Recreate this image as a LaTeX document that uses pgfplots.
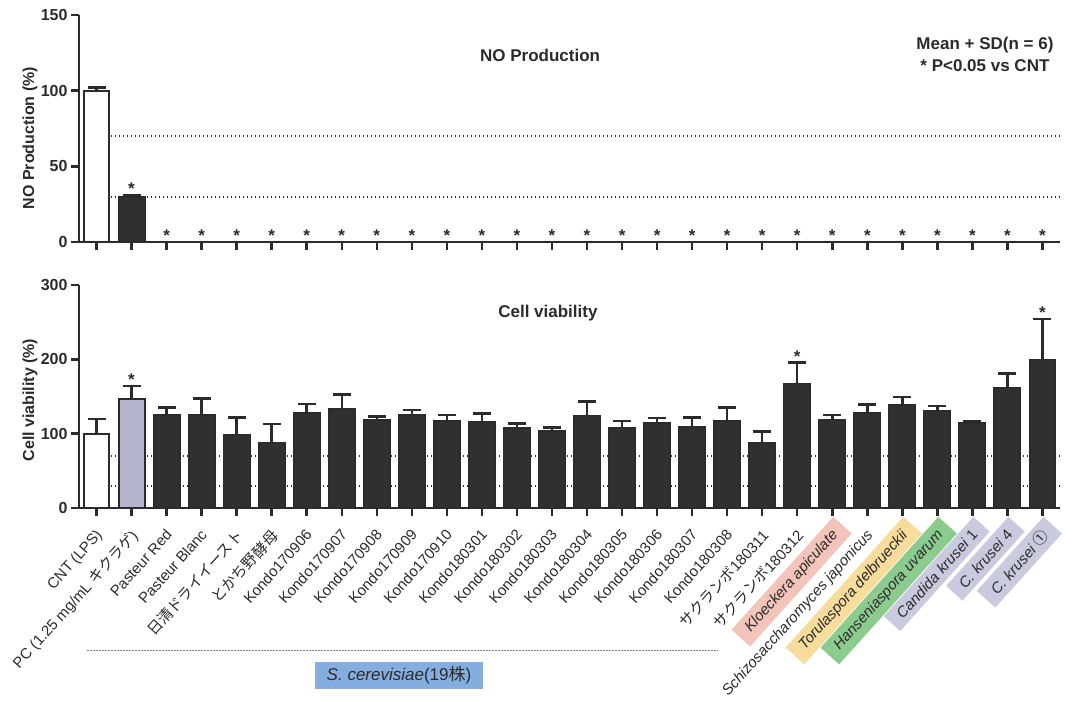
\documentclass[border=0pt]{standalone}
\usepackage{pgfplots}
\pgfplotsset{compat=1.18}
\usepackage{pgfplotstable}
\usepackage{fontspec}
\setmainfont{Liberation Sans}
\newfontfamily\jp{Noto Sans CJK JP}

\definecolor{ink}{HTML}{2B2B2B}
\definecolor{barfill}{HTML}{303030}
\definecolor{pcfill}{HTML}{B4B4CC}
\definecolor{hlpink}{HTML}{F2C4BA}
\definecolor{hlyellow}{HTML}{F7DC9C}
\definecolor{hlgreen}{HTML}{8CCB8E}
\definecolor{hllav}{HTML}{CACADF}
\definecolor{hlblue}{HTML}{84AEDF}

% coloured band behind a tick label, overhanging the text at both ends
\newsavebox\hlbox
\newcommand\hl[2]{\begingroup\sbox\hlbox{#2}\setlength\fboxsep{5.5pt}%
  \hspace*{-10.5pt}\raisebox{0pt}[\ht\hlbox][\dp\hlbox]{\colorbox{#1}{\hspace*{5pt}\usebox\hlbox\hspace*{5pt}}}\hspace*{-10.5pt}\endgroup}

% ---- NO production (%) ----
\pgfplotstableread{
x y e
0 100 2
}\noCNT
\pgfplotstableread{
x y e
1 30 1
2 0 0
3 0 0
4 0 0
5 0 0
6 0 0
7 0 0
8 0 0
9 0 0
10 0 0
11 0 0
12 0 0
13 0 0
14 0 0
15 0 0
16 0 0
17 0 0
18 0 0
19 0 0
20 0 0
21 0 0
22 0 0
23 0 0
24 0 0
25 0 0
26 0 0
27 0 0
}\noSamples
\pgfplotstableread{
x y
1 31
2 0
3 0
4 0
5 0
6 0
7 0
8 0
9 0
10 0
11 0
12 0
13 0
14 0
15 0
16 0
17 0
18 0
19 0
20 0
21 0
22 0
23 0
24 0
25 0
26 0
27 0
}\noStars

% ---- cell viability (%) ----
\pgfplotstableread{
x y e
0 100 20
}\cvCNT
\pgfplotstableread{
x y e
1 146 18
}\cvPC
\pgfplotstableread{
x y e
2 125 10
3 125 22
4 98 24
5 88 25
6 128 12
7 133 20
8 118 5
9 125 7
10 117 8
11 116 11
12 108 6
13 104 4
14 124 19
15 107 10
16 114 7
17 109 13
18 117 18
19 87 16
20 167 29
21 119 6
22 128 11
23 138 11
24 131 6
25 115 2
26 162 19
27 199 55
}\cvSamples
\pgfplotstableread{
x y
1 164
20 196
27 254
}\cvStars

\pgfplotsset{
  panel/.style={
    width=981pt, scale only axis, clip=false,
    xmin=-0.5, xmax=27.5, ymin=0,
    axis lines=left, axis line style={-, line width=2.5pt, ink},
    xtick={0,...,27}, tick align=outside, major tick length=8pt,
    every tick/.style={line width=2.5pt, ink},
    /pgf/number format/assume math mode=true,
    yticklabel style={font=\bfseries\fontsize{16}{16}\selectfont, text=ink},
    every axis y label/.style={rotate=90, anchor=center, font=\bfseries\fontsize{16}{19}\selectfont, text=ink},
  },
  bars/.style={ybar, bar width=0.74, bar shift=0pt, line width=2pt, draw=ink,
    error bars/y dir=plus, error bars/y explicit,
    error bars/error bar style={line width=2.5pt, ink},
    error bars/error mark options={rotate=90, line width=2.5pt, mark size=9pt, ink}},
  stars/.style={only marks, mark=none, nodes near coords={*},
    nodes near coords style={anchor=south, inner sep=0pt, font=\bfseries\fontsize{17}{17}\selectfont, text=ink}},
  limit/.style={ink, line width=2pt, dash pattern=on 1.8pt off 2.2pt, mark=none},
}

\begin{document}
\begin{tikzpicture}
\path[use as bounding box] (0pt,0pt) rectangle (1066pt,720pt);

\begin{axis}[panel, at={(79pt,478pt)}, anchor=south west, height=227pt,
  ymax=150, ytick={0,50,100,150}, xticklabel={\phantom{0}},
  ylabel={NO Production (\%)},
  ylabel style={at={(axis description cs:-0.05,0.458)}}]
  \addplot[limit] coordinates {(0.4,70) (27.5,70)};
  \addplot[limit] coordinates {(0.4,30) (27.5,30)};
  \addplot[bars, fill=white] table[x=x, y=y, y error=e] {\noCNT};
  \addplot[bars, fill=barfill] table[x=x, y=y, y error=e] {\noSamples};
  \addplot[stars] table[x=x, y=y] {\noStars};
  \node[font=\bfseries\fontsize{17}{17}\selectfont, text=ink] at (axis description cs:0.47,0.824) {NO Production};
  \node[align=center, font=\bfseries\fontsize{17}{22}\selectfont, text=ink] at (axis description cs:0.9235,0.828) {Mean + SD(n = 6)\\* P<0.05 vs CNT};
\end{axis}

\begin{axis}[panel, at={(79pt,212pt)}, anchor=south west, height=223pt,
  ymax=300, ytick={0,100,200,300},
  ylabel={Cell viability (\%)},
  ylabel style={at={(axis description cs:-0.05,0.484)}},
  xticklabels={CNT (LPS), PC (1.25 mg/mL {\jp キクラゲ}), Pasteur Red, Pasteur Blanc,
    {\jp 日清ドライイースト}, {\jp とかち野酵母},
    Kondo170906, Kondo170907, Kondo170908, Kondo170909, Kondo170910,
    Kondo180301, Kondo180302, Kondo180303, Kondo180304, Kondo180305,
    Kondo180306, Kondo180307, Kondo180308,
    {\jp サクランボ}180311, {\jp サクランボ}180312,
    \hl{hlpink}{\textit{Kloeckera apiculate}},
    \textit{Schizosaccharomyces japonicus},
    \hl{hlyellow}{\textit{Torulaspora delbrueckii}},
    \hl{hlgreen}{\textit{Hanseniaspora uvarum}},
    \hl{hllav}{\textit{Candida krusei} 1},
    \hl{hllav}{\textit{C. krusei} 4},
    \hl{hllav}{\textit{C. krusei} {\jp ①}}},
  xticklabel style={xshift=-2pt, yshift=-12pt, rotate=48, anchor=north east, inner sep=0pt,
    font=\fontsize{15}{15}\selectfont, text=ink}]
  \addplot[limit] coordinates {(0.4,70) (27.5,70)};
  \addplot[limit] coordinates {(0.4,30) (27.5,30)};
  \addplot[bars, fill=white] table[x=x, y=y, y error=e] {\cvCNT};
  \addplot[bars, fill=pcfill] table[x=x, y=y, y error=e] {\cvPC};
  \addplot[bars, fill=barfill] table[x=x, y=y, y error=e] {\cvSamples};
  \addplot[stars] table[x=x, y=y] {\cvStars};
  \node[font=\bfseries\fontsize{17}{17}\selectfont, text=ink] at (axis description cs:0.478,0.874) {Cell viability};
\end{axis}

% strain group marker under the labels
\draw[gray, line width=0.8pt, dash pattern=on 2pt off 1pt] (87pt,70pt) -- (718pt,70pt);
\node[fill=hlblue, minimum width=168pt, minimum height=27pt, inner sep=0pt, text=ink,
  font=\fontsize{17}{17}\selectfont] at (399pt,44.5pt) {\textit{S. cerevisiae}(19{\jp 株})};
\end{tikzpicture}
\end{document}
